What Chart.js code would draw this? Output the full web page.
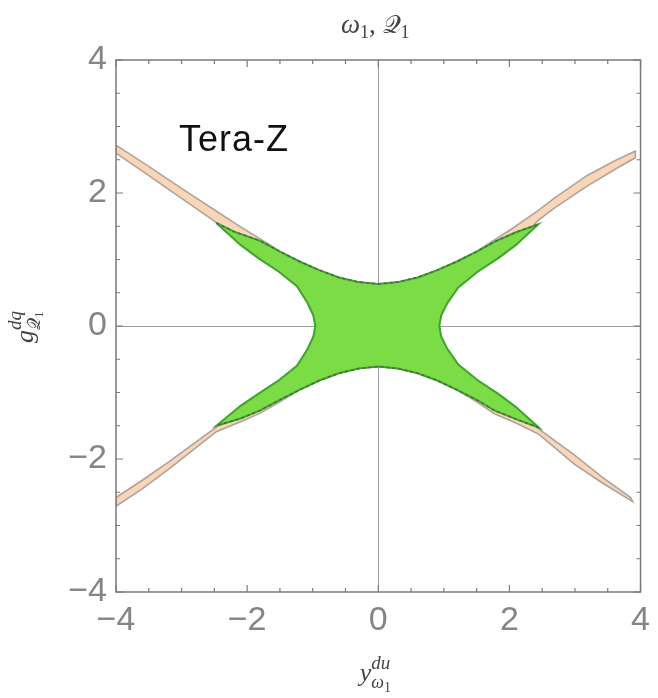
<!DOCTYPE html>
<html><head><meta charset="utf-8">
<script src="https://cdn.jsdelivr.net/npm/chart.js@4/dist/chart.umd.min.js"></script>
<style>html,body{margin:0;padding:0;background:#fff;}canvas{display:block;}</style>
</head><body>
<canvas id="c" width="658" height="698"></canvas>
<script>
// ---- axis ticks ----
const xTickValues = [-4, -2, 0, 2, 4];
const xTickLabels = ['\u22124', '\u22122', '0', '2', '4'];
const yTickValues = [-4, -2, 0, 2, 4];
const yTickLabels = ['\u22124', '\u22122', '0', '2', '4'];

// ---- green region (Tera-Z) boundaries ----
const greenUpper = [[-2.47,1.55],[-2.2,1.42],[-1.8,1.28],[-1.5,1.12],[-1.2,0.97],[-0.9,0.84],[-0.6,0.73],[-0.3,0.66],[0,0.63],[0.3,0.66],[0.6,0.73],[0.9,0.84],[1.2,0.97],[1.5,1.12],[1.8,1.28],[2.1,1.41],[2.44,1.53]];
const greenRight = [[2.44,1.53],[2.1,1.22],[1.83,1.02],[1.52,0.82],[1.22,0.58],[1.05,0.34],[0.96,0.16],[0.93,0],[0.96,-0.16],[1.05,-0.34],[1.22,-0.58],[1.52,-0.82],[1.83,-1.02],[2.1,-1.22],[2.45,-1.53]];
const greenLower = [[2.45,-1.53],[2.1,-1.40],[1.77,-1.27],[1.5,-1.11],[1.2,-0.96],[0.9,-0.82],[0.6,-0.71],[0.3,-0.64],[0,-0.61],[-0.3,-0.64],[-0.6,-0.71],[-0.9,-0.82],[-1.2,-0.96],[-1.5,-1.11],[-1.8,-1.27],[-2.1,-1.39],[-2.47,-1.50]];
const greenLeft = [[-2.47,-1.50],[-2.1,-1.2],[-1.83,-1.02],[-1.52,-0.82],[-1.24,-0.6],[-1.08,-0.35],[-0.99,-0.16],[-0.96,0],[-0.99,0.16],[-1.08,0.35],[-1.24,0.6],[-1.52,0.82],[-1.83,1.02],[-2.1,1.22],[-2.47,1.55]];

// ---- peach region arms ----
const peachULTop = [[-4,2.72],[-3.5,2.40],[-3.0,2.07],[-2.49,1.74],[-2.1,1.49],[-1.7,1.25]];
const peachURTop = [[1.7,1.25],[2.05,1.47],[2.43,1.73],[2.68,1.92],[3.18,2.26],[3.6,2.48],[3.92,2.63]];
const peachURBottom = [[3.92,2.53],[3.6,2.35],[3.18,2.10],[2.68,1.77],[2.43,1.58]];
const peachLRTop = [[2.45,-1.55],[2.98,-1.93],[3.4,-2.26],[3.85,-2.58]];
const peachLRBottom = [[3.88,-2.64],[3.4,-2.35],[2.98,-2.07],[2.45,-1.63],[2.1,-1.46],[1.77,-1.32],[1.5,-1.14]];
const peachLLBottom = [[-1.5,-1.14],[-1.8,-1.31],[-2.1,-1.44],[-2.47,-1.59],[-3.19,-2.15],[-3.6,-2.45],[-4,-2.71]];
const peachLLTop = [[-4,-2.58],[-3.6,-2.32],[-3.19,-2.04],[-2.47,-1.52]];
const peachULBottom = [[-2.49,1.57],[-3.0,1.92],[-3.5,2.26],[-4,2.60]];

const label = 'Tera-Z';
const labelPos = [-3.04, 2.63];

const pt = a => ({x: a[0], y: a[1]});
const greenPoly = [...greenUpper, ...greenRight.slice(1), ...greenLower.slice(1), ...greenLeft.slice(1)].map(pt);
const peachPoly = [
  ...peachULTop,
  ...greenUpper.filter(p => Math.abs(p[0]) <= 1.5),
  ...peachURTop, ...peachURBottom,
  ...greenRight.filter(p => Math.abs(p[1]) <= 1.3),
  ...peachLRTop, ...peachLRBottom,
  ...greenLower.filter(p => Math.abs(p[0]) <= 1.2),
  ...peachLLBottom, ...peachLLTop,
  ...greenLeft.filter(p => Math.abs(p[1]) <= 1.3),
  ...peachULBottom, peachULTop[0]
].map(pt);

function drawRuns(ctx, runs, x, y) {
  let w = 0;
  runs.forEach(r => {
    if (r.sup !== undefined) {
      ctx.font = r.f; const a = ctx.measureText(r.sup).width;
      let b = 0; r.sub.forEach(s => { ctx.font = s.f; b += ctx.measureText(s.t).width; });
      r.w = Math.max(a, b);
    } else { ctx.font = r.f; r.w = ctx.measureText(r.t).width; }
    w += r.w;
  });
  let cx = x - w / 2;
  runs.forEach(r => {
    if (r.sup !== undefined) {
      ctx.font = r.f; ctx.fillText(r.sup, cx, y + r.supDy);
      let sx = cx;
      r.sub.forEach(s => { ctx.font = s.f; ctx.fillText(s.t, sx, y + s.dy); sx += ctx.measureText(s.t).width; });
    } else { ctx.font = r.f; ctx.fillText(r.t, cx, y + (r.dy || 0)); }
    cx += r.w;
  });
}

const decor = {
  id: 'decor',
  afterDraw(chart) {
    const ctx = chart.ctx, a = chart.chartArea, xs = chart.scales.x, ys = chart.scales.y;
    ctx.save();
    // frame
    ctx.strokeStyle = '#7a7a7a'; ctx.lineWidth = 1.5;
    ctx.strokeRect(a.left, a.top, a.right - a.left, a.bottom - a.top);
    // inward ticks
    ctx.lineWidth = 1.2;
    xs.ticks.forEach(t => {
      const p = xs.getPixelForValue(t.value), L = xTickValues.includes(t.value) ? 7 : 4;
      ctx.beginPath();
      ctx.moveTo(p, a.bottom); ctx.lineTo(p, a.bottom - L);
      ctx.moveTo(p, a.top); ctx.lineTo(p, a.top + L);
      ctx.stroke();
    });
    ys.ticks.forEach(t => {
      const p = ys.getPixelForValue(t.value), L = yTickValues.includes(t.value) ? 7 : 4;
      ctx.beginPath();
      ctx.moveTo(a.left, p); ctx.lineTo(a.left + L, p);
      ctx.moveTo(a.right, p); ctx.lineTo(a.right - L, p);
      ctx.stroke();
    });
    // Tera-Z label
    ctx.fillStyle = '#111';
    ctx.font = '36px "Liberation Sans", Arial, sans-serif';
    ctx.letterSpacing = '1px';
    ctx.textBaseline = 'alphabetic'; ctx.textAlign = 'left';
    ctx.fillText(label, xs.getPixelForValue(labelPos[0]), ys.getPixelForValue(labelPos[1]));
    ctx.letterSpacing = '0px';
    // title
    const serif = '"Liberation Serif", "DejaVu Serif", serif';
    const scr = '"DejaVu Serif", "DejaVu Sans", serif';
    ctx.fillStyle = '#444';
    const cxm = (a.left + a.right) / 2 - 3;
    drawRuns(ctx, [
      {t: '\u03C9', f: 'italic 27px ' + serif},
      {t: '1', f: '18px ' + serif, dy: 5},
      {t: ', ', f: '27px ' + serif},
      {t: '\uD835\uDCAC', f: '25px ' + scr},
      {t: '1', f: '18px ' + serif, dy: 5}
    ], cxm, 33);
    // x title
    drawRuns(ctx, [
      {t: 'y', f: 'italic 26px ' + serif},
      {sup: 'du', f: 'italic 19px ' + serif, supDy: -12,
       sub: [{t: '\u03C9', f: 'italic 18px ' + serif, dy: 7}, {t: '1', f: '14px ' + serif, dy: 11}]}
    ], cxm, 681);
    // y title (rotated)
    ctx.translate(33, 327); ctx.rotate(-Math.PI / 2);
    drawRuns(ctx, [
      {t: 'g', f: 'italic 26px ' + serif},
      {sup: 'dq', f: 'italic 19px ' + serif, supDy: -12,
       sub: [{t: '\uD835\uDCAC', f: '17px ' + scr, dy: 7}, {t: '1', f: '13px ' + serif, dy: 10}]}
    ], 0, 0);
    ctx.restore();
  }
};

const tickFont = {family: '"Liberation Sans", Arial, sans-serif', size: 34};
const zeroGrid = ctx => (ctx.tick && ctx.tick.value === 0) ? '#9c9c9c' : 'rgba(0,0,0,0)';

new Chart(document.getElementById('c'), {
  type: 'scatter',
  data: {
    datasets: [
      {data: greenUpper.map(pt), showLine: true, borderColor: 'rgba(80,80,80,0.75)', borderWidth: 1.5, borderDash: [3, 3], pointRadius: 0, fill: false, order: 0},
      {data: greenLower.map(pt), showLine: true, borderColor: 'rgba(80,80,80,0.75)', borderWidth: 1.5, borderDash: [3, 3], pointRadius: 0, fill: false, order: 0},
      {data: greenPoly, showLine: true, borderColor: '#3fa52e', borderWidth: 2, backgroundColor: '#7bdc45', pointRadius: 0, fill: 'shape', order: 1},
      {data: peachPoly, showLine: true, borderColor: 'rgba(160,152,146,0.85)', borderWidth: 1.6, backgroundColor: '#f9d6b8', pointRadius: 0, fill: 'shape', order: 2}
    ]
  },
  options: {
    responsive: false, animation: false, devicePixelRatio: 1,
    layout: {padding: {left: 0, right: 10, top: 60, bottom: 0}},
    plugins: {legend: {display: false}, tooltip: {enabled: false}},
    scales: {
      x: {
        type: 'linear', min: -4, max: 4,
        afterFit: s => { s.height = 106; },
        ticks: {stepSize: 0.5, autoSkip: false, maxRotation: 0, padding: 8, color: '#858585', font: tickFont,
          callback: v => { const i = xTickValues.indexOf(v); return i >= 0 ? xTickLabels[i] : ''; }},
        grid: {color: zeroGrid, lineWidth: 1, drawTicks: false},
        border: {display: false}
      },
      y: {
        type: 'linear', min: -4, max: 4,
        afterFit: s => { s.width = 116; },
        ticks: {stepSize: 0.5, autoSkip: false, padding: 9, color: '#858585', font: tickFont,
          callback: v => { const i = yTickValues.indexOf(v); return i >= 0 ? yTickLabels[i] : ''; }},
        grid: {color: zeroGrid, lineWidth: 1, drawTicks: false},
        border: {display: false}
      }
    }
  },
  plugins: [decor]
});
</script>
</body></html>
